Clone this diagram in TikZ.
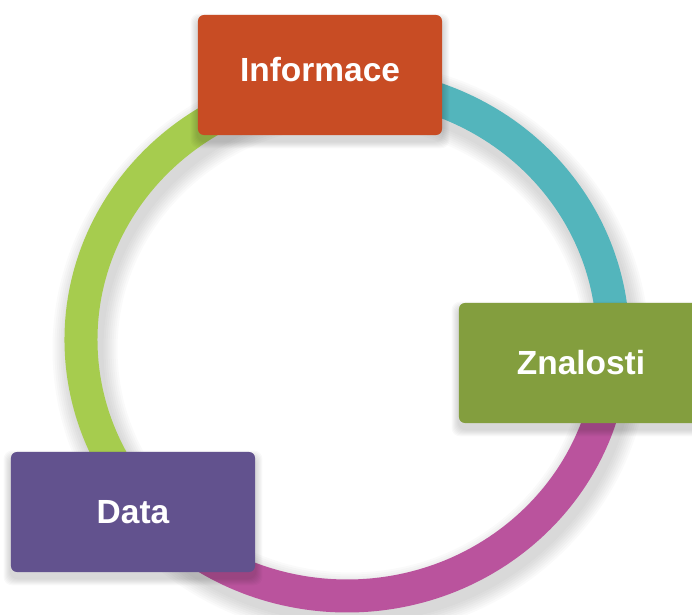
\documentclass[tikz,border=0pt]{standalone}
\usepackage{fontspec}
\setmainfont{Liberation Sans}
\usetikzlibrary{calc,backgrounds}

\definecolor{infocolor}{HTML}{C84C24}
\definecolor{knowcolor}{HTML}{839E3E}
\definecolor{datacolor}{HTML}{62528E}
\definecolor{ringgreen}{HTML}{A6CC4E}
\definecolor{ringteal}{HTML}{53B5BC}
\definecolor{ringpink}{HTML}{BA539D}

\tikzset{
  box/.style={rectangle, rounded corners=0.15cm, inner sep=0pt,
    minimum width=6.1cm, minimum height=3cm, text=white,
    font=\fontsize{23.8}{28}\selectfont\bfseries},
  ring/.style={line width=0.825cm},
}

\begin{document}
\begin{tikzpicture}[x=0.025cm,y=0.025cm]
        \useasboundingbox (0,0) rectangle (692,615);
        % Define the centre of the ring and the nodes
        \coordinate (c) at (347,275);
        \node[box,fill=infocolor,text depth=0.3cm] (info) at (320,540) {Informace};
        \node[box,fill=knowcolor] (know) at (581,252) {Znalosti};
        \node[box,fill=datacolor] (data) at (133,103) {Data};
        % Ring and soft shadows behind the nodes
        \begin{scope}[on background layer]
            \foreach \w [evaluate=\w as \lw using (33+4*\w)*0.025] in {1,...,8}
                \draw[black,opacity=0.018,line width=\lw cm] ($(c)+(4,-9)$) ellipse [x radius=266, y radius=256];
            \draw[ring,ringgreen] ($(c)+(95:266 and 256)$) arc[start angle=95,end angle=220,x radius=266,y radius=256];
            \draw[ring,ringteal] ($(c)+(-6:266 and 256)$) arc[start angle=-6,end angle=95,x radius=266,y radius=256];
            \draw[ring,ringpink] ($(c)+(220:266 and 256)$) arc[start angle=220,end angle=354,x radius=266,y radius=256];
            \foreach \n in {info,know,data}
                \foreach \s in {1,...,7}
                    \fill[black,opacity=0.025,rounded corners=0.2cm] ($(\n.south west)+(-\s,-\s-6)$) rectangle ($(\n.north east)+(\s,\s-6)$);
        \end{scope}
    \end{tikzpicture}
\end{document}
